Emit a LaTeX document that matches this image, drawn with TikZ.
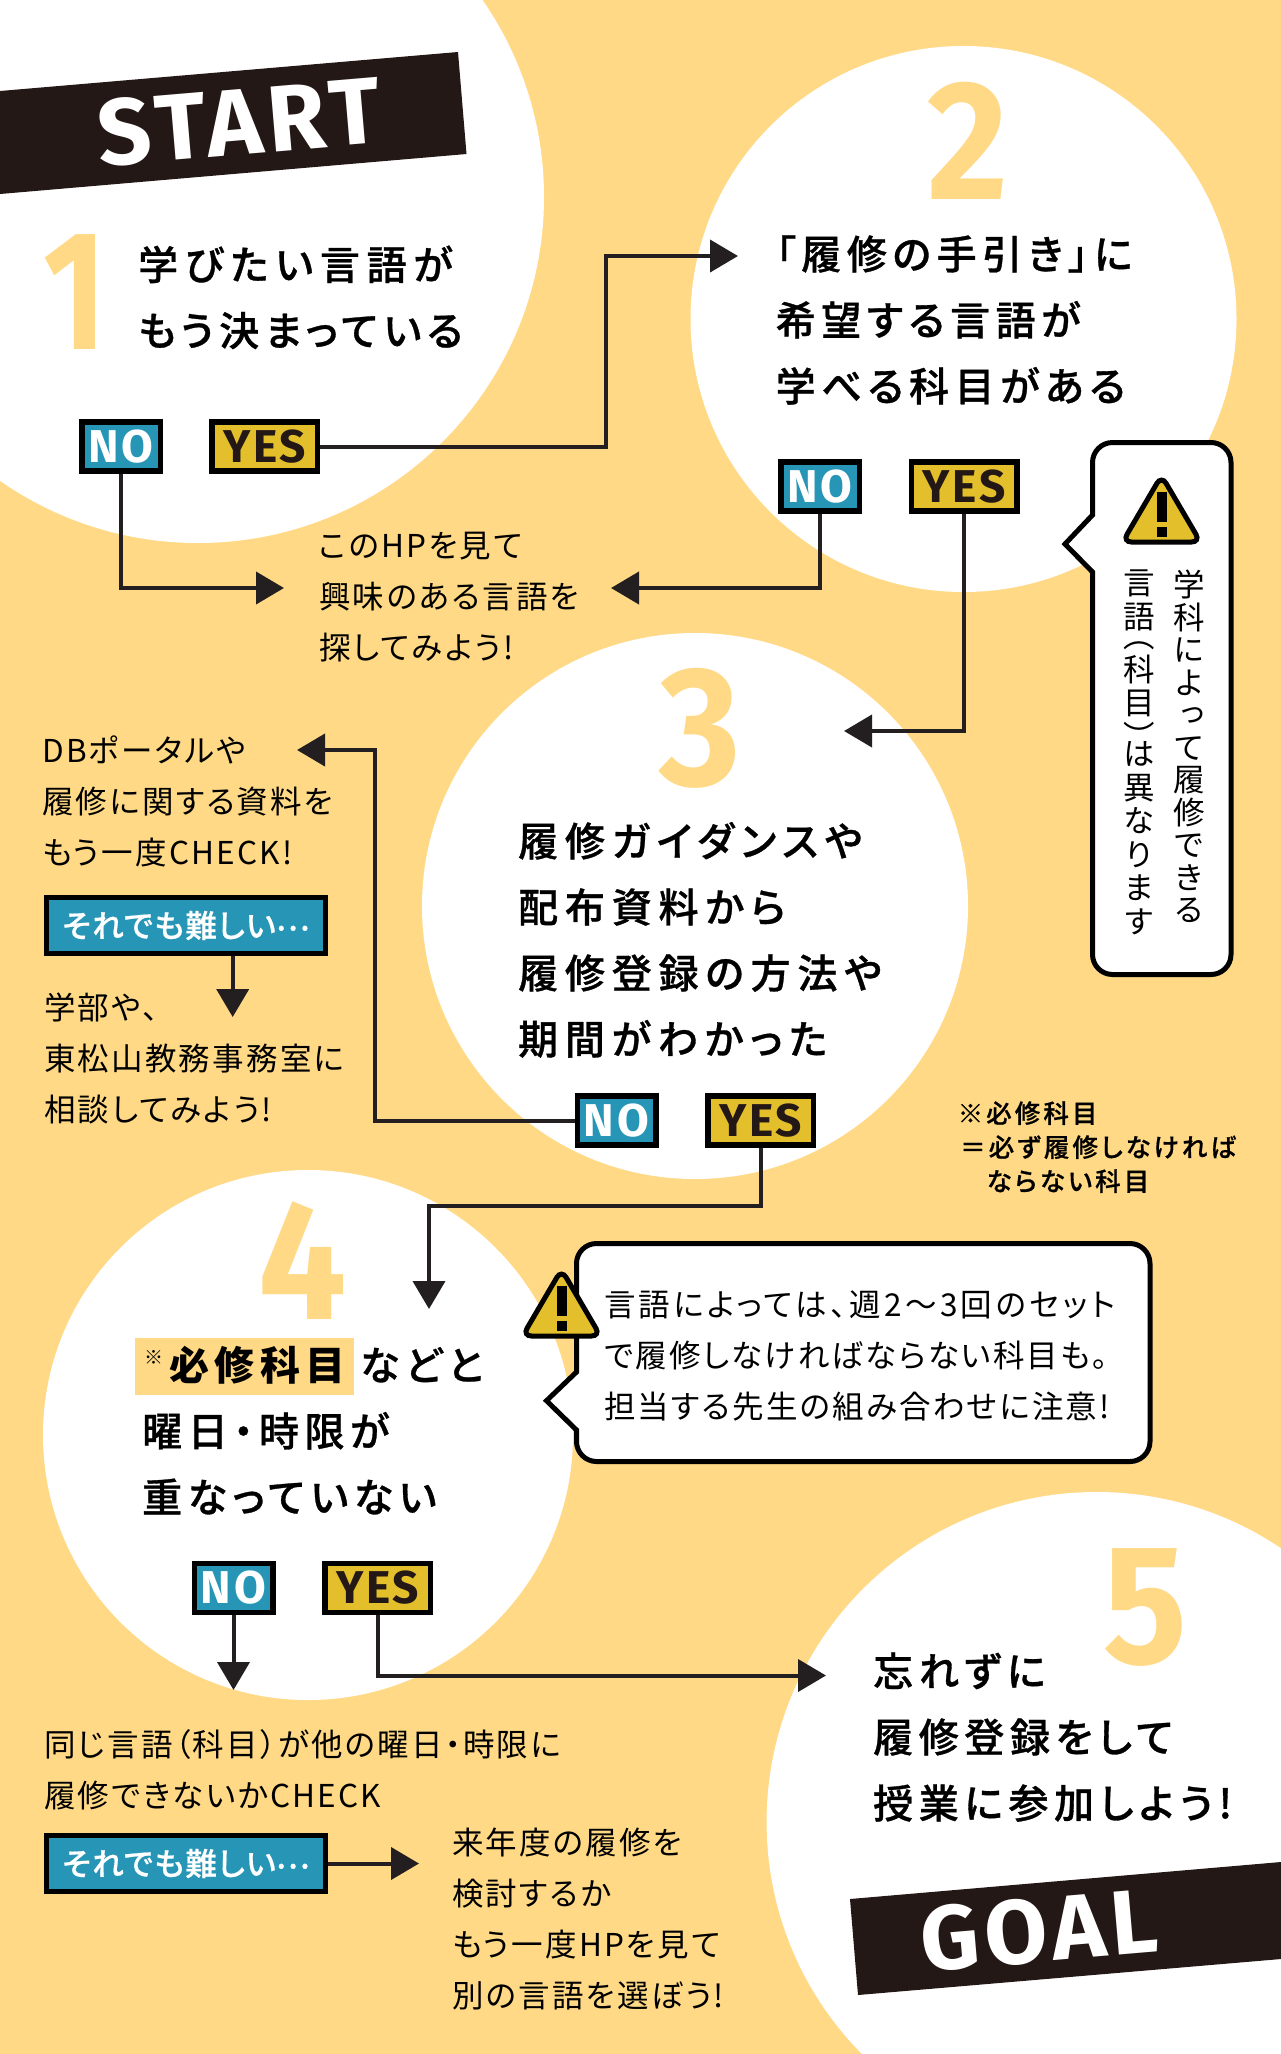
\documentclass[tikz,border=0pt]{standalone}
\usepackage{fontspec}
\usepackage{graphicx}
\usetikzlibrary{arrows.meta,calc}
\setmainfont{Noto Sans CJK JP}
\newfontfamily\jb[LetterSpace=14,RawFeature=+palt,FakeBold=0.8]{Noto Sans CJK JP Medium}
\newfontfamily\jbw[LetterSpace=17,RawFeature=+palt,FakeBold=0.8]{Noto Sans CJK JP Medium}
\newfontfamily\jk[LetterSpace=14,RawFeature=+palt]{Noto Sans CJK JP}
\newfontfamily\jr[LetterSpace=7,RawFeature=+palt]{Noto Sans CJK JP}
\newfontfamily\jrw[LetterSpace=10.5,RawFeature=+palt]{Noto Sans CJK JP}
\newfontfamily\jn[LetterSpace=12,RawFeature=+palt,FakeBold=0.6]{Noto Sans CJK JP Medium}
\newfontfamily\jh[LetterSpace=4,RawFeature=+palt,FakeBold=0.6]{Noto Sans CJK JP Medium}
\newfontfamily\jell[RawFeature=+fwid,FakeBold=0.6]{Noto Sans CJK JP Medium}
\newfontfamily\jv[RawFeature=+vert]{Noto Sans CJK JP}
\newfontfamily\dn{Fira Sans}
\newfontfamily\dnt[LetterSpace=6]{Fira Sans}
\definecolor{bgy}{HTML}{FFD985}
\definecolor{ink}{HTML}{231815}
\definecolor{line}{HTML}{231F20}
\definecolor{nob}{HTML}{2796B6}
\definecolor{yesb}{HTML}{E3C02B}
\newcommand{\narrow}[1]{\scalebox{0.92}[1]{#1}}
\tikzset{
  big/.style={font=\jb\fontsize{40}{66}\selectfont,text=black,align=left,anchor=west,inner sep=0pt},
  body/.style={font=\jr\fontsize{31.5}{51}\selectfont,text=black,align=left,anchor=west,inner sep=0pt},
  nt/.style={font=\jn\fontsize{25.5}{34}\selectfont,text=black,align=left,anchor=west,inner sep=0pt},
  vt/.style={font=\jv\fontsize{31.5}{33.5}\selectfont,text=black,align=center,anchor=north,inner sep=0pt},
  numb/.style={font=\dn\bfseries\fontsize{170}{170}\selectfont,text=bgy,inner sep=0pt},
  banner/.style={font=\dnt\bfseries\fontsize{94}{94}\selectfont,text=white,inner sep=0pt,rotate=4.87},
  btn/.style={draw=black,line width=5.5pt,inner sep=0pt,minimum height=49pt,font=\dnt\bfseries\fontsize{46}{46}\selectfont},
  nobtn/.style={btn,fill=nob,text=white,minimum width=78.5pt},
  yesbtn/.style={btn,fill=yesb,text=ink,minimum width=105.5pt},
  hard/.style={draw=black,line width=5.5pt,fill=nob,text=white,inner sep=0pt,minimum width=279pt,minimum height=56pt,font=\jh\fontsize{31.5}{31}\selectfont},
  conn/.style={draw=line,line width=4pt,-{Triangle[length=28pt,width=32pt]}},
  call/.style={draw=black,fill=white,line width=5pt,miter limit=10},
  warn/.style={draw=black,fill=yesb,line width=5pt,rounded corners=9pt},
}
\newcommand{\warning}[2]{%
  \begin{scope}[shift={(#1,#2)}]
    \draw[warn] (37.5,-1.5) -- (76.5,65) -- (-1.5,65) -- cycle;
    \fill[black] (32.5,15) rectangle (42.5,45);
    \fill[black] (32.5,50) rectangle (42.5,60);
  \end{scope}}
\begin{document}
\begin{tikzpicture}[x=1pt,y=-1pt]
\useasboundingbox (0,0) rectangle (1281,2054);
\begin{scope}
\clip (0,0) rectangle (1281,2054);
\fill[bgy] (0,0) rectangle (1281,2054);
\fill[white] (198,197) circle[radius=346pt];
\fill[white] (963.5,319) circle[radius=273pt];
\fill[white] (695,906) circle[radius=273pt];
\fill[white] (308,1435) circle[radius=265pt];
\fill[white] (1096.6,1822) circle[radius=330pt];
\fill[ink] (0,91) -- (458,52) -- (466.5,154) -- (0,194) -- cycle;
\fill[ink] (850,1899) -- (1281,1862) -- (1281,1959) -- (858,1995) -- cycle;
\end{scope}
% banners
\node[banner] (start) at (239,122) {START};
\node[banner,font=\dnt\bfseries\fontsize{91}{91}\selectfont] (goal) at (1039,1930) {GOAL};
% numbers
\node[numb] (n1) at (75,292) {\scalebox{0.8}[1]{1}};
\node[numb] (n2) at (968,141) {\narrow{2}};
\node[numb] (n3) at (700,728) {\narrow{3}};
\node[numb] (n4) at (303,1261) {\narrow{4}};
\node[numb] (n5) at (1145,1607) {\narrow{5}};
% main texts
\node[big] (t1) at (138,299.5) {\strut{\jbw 学びたい言語が}\\\strut もう決まっている};
\node[big] (t2) at (775.5,322) {\strut 「履修の手引き」に\\\strut 希望する言語が\\\strut 学べる科目がある};
\node[big,font=\jbw\fontsize{40}{66}\selectfont] (t3) at (518,942) {\strut 履修ガイダンスや\\\strut 配布資料から\\\strut 履修登録の方法や\\\strut 期間がわかった};
\fill[bgy] (135,1338) rectangle (354,1395);
\node[font=\jr\fontsize{19}{19}\selectfont,inner sep=0pt,anchor=west] (t4m) at (144,1357) {※};
\node[big,font=\jk\bfseries\fontsize{40}{66}\selectfont] (t4a) at (169,1367) {\strut 必修科目};
\node[big] (t4b) at (360,1367) {\strut などと};
\node[big] (t4c) at (142,1466) {\strut 曜日・時限が\\\strut 重なっていない};
\node[big] (t5) at (873,1739) {\strut 忘れずに\\\strut 履修登録をして\\\strut 授業に参加しよう!};
% body texts
\node[body] (b1) at (319,598) {\strut このHPを見て\\\strut 興味のある言語を\\\strut 探してみよう!};
\node[body] (b2) at (42,803) {\strut DBポータルや\\\strut 履修に関する資料を\\\strut もう一度CHECK!};
\node[body] (b3) at (44,1060) {\strut 学部や、\\\strut 東松山教務事務室に\\\strut 相談してみよう!};
\node[body] (b4) at (44,1772) {\strut 同じ言語（科目）が他の曜日・時限に\\\strut 履修できないかCHECK};
\node[body] (b5) at (452,1921) {\strut 来年度の履修を\\\strut 検討するか\\\strut もう一度HPを見て\\\strut 別の言語を選ぼう!};
\node[nt] (nt1) at (957.5,1116) {\strut ※必修科目};
\node[nt] (nt2) at (960,1150) {\strut ＝必ず履修しなければ};
\node[nt] (nt3) at (986.5,1184) {\strut ならない科目};
% buttons
\node[nobtn] (no1) at (121,446.5) {NO};
\node[yesbtn] (yes1) at (264.5,446.5) {YES};
\node[nobtn] (no2) at (820,486.5) {NO};
\node[yesbtn] (yes2) at (964,486.5) {YES};
\node[nobtn] (no3) at (616.5,1120.5) {NO};
\node[yesbtn] (yes3) at (760.5,1120.5) {YES};
\node[nobtn] (no4) at (233.5,1588) {NO};
\node[yesbtn] (yes4) at (377.5,1588) {YES};
\node[hard] (h1) at (186,925.5) {それでも難しい{\jell\raisebox{7pt}{…}}};
\node[hard] (h2) at (186,1863.5) {それでも難しい{\jell\raisebox{7pt}{…}}};
% connectors
\coordinate (c1) at (606,256);
\coordinate (e1) at (738,256);
\draw[conn] (yes1.east) -| (c1) -- (e1);
\coordinate (e2) at (284,588);
\draw[conn] (no1.south) |- (e2);
\coordinate (e3) at (611,588);
\draw[conn] (no2.south) |- (e3);
\coordinate (e4) at (844,731);
\draw[conn] (yes2.south) |- (e4);
\coordinate (c5) at (375,750);
\coordinate (e5) at (297,750);
\draw[conn] (no3.west) -| (c5) -- (e5);
\coordinate (c6) at (429,1206);
\coordinate (e6) at (429,1309);
\draw[conn] (yes3.south) |- (c6) -- (e6);
\coordinate (e7) at (233.5,1690);
\draw[conn] (no4.south) -- (e7);
\coordinate (e8) at (826,1675.5);
\draw[conn] (yes4.south) |- (e8);
\coordinate (e9) at (232.7,1017);
\draw[conn] (h1.south -| e9) -- (e9);
\coordinate (e10) at (419,1863.5);
\draw[conn] (h2.east) -- (e10);
% callout 1
\draw[call] (1092.5,515) -- (1092.5,462.5) .. controls (1092.5,451.5) and (1101.5,442.5) .. (1112.5,442.5) -- (1211,442.5) .. controls (1222,442.5) and (1231,451.5) .. (1231,462.5) -- (1231,954.5) .. controls (1231,965.5) and (1222,974.5) .. (1211,974.5) -- (1112.5,974.5) .. controls (1101.5,974.5) and (1092.5,965.5) .. (1092.5,954.5) -- (1092.5,572) -- (1065,544) -- cycle;
\warning{1124}{477}
\node[vt,font=\jv\fontsize{31.5}{32.5}\selectfont] (v1) at (1189,570) {学\\科\\に\\よ\\っ\\て\\履\\修\\で\\き\\る};
\node[vt] (v2) at (1139,570) {言\\語\\[-14pt]（\\科\\目\\）\\[-16pt]は\\異\\な\\り\\ま\\す};
% callout 2
\draw[call] (576.5,1372) -- (576.5,1263.5) .. controls (576.5,1252.5) and (585.5,1243.5) .. (596.5,1243.5) -- (1130,1243.5) .. controls (1141,1243.5) and (1150,1252.5) .. (1150,1263.5) -- (1150,1441.5) .. controls (1150,1452.5) and (1141,1461.5) .. (1130,1461.5) -- (596.5,1461.5) .. controls (585.5,1461.5) and (576.5,1452.5) .. (576.5,1441.5) -- (576.5,1430) -- (546.5,1400.7) -- cycle;
\warning{524}{1271}
\node[body] (c2) at (604,1357) {\strut{\jrw 言語によっては、週2〜3回のセット}\\\strut で履修しなければならない科目も。\\\strut 担当する先生の組み合わせに注意!};
\end{tikzpicture}
\end{document}
